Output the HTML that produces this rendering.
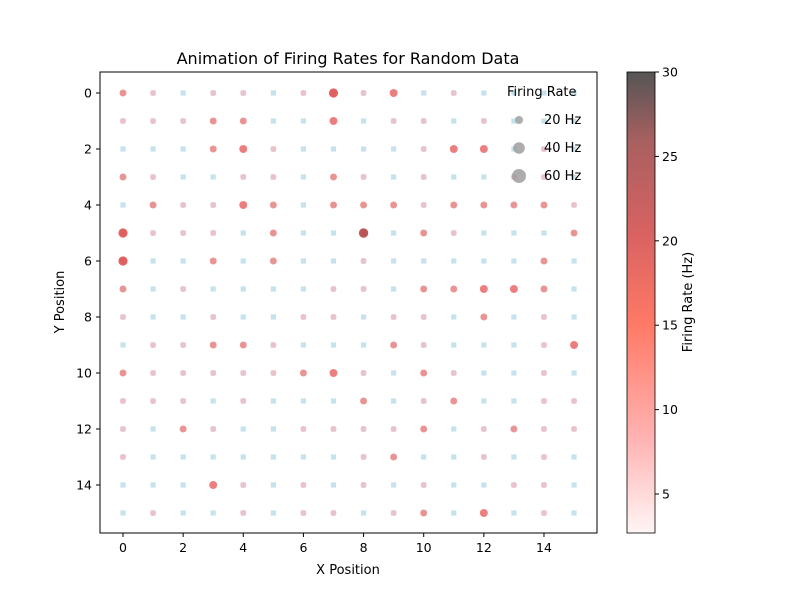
<!DOCTYPE html>
<html><head><meta charset="utf-8"><style>
body{margin:0;background:#fff;font-family:"Liberation Sans","DejaVu Sans",sans-serif}
svg text{font-family:"DejaVu Sans","Liberation Sans",sans-serif;fill:#000}
</style></head><body>
<svg id="c" width="800" height="600" xmlns="http://www.w3.org/2000/svg">
<defs><linearGradient id="cg" x1="0" y1="1" x2="0" y2="0">
<stop offset="0" stop-color="#fff5f5"/><stop offset="0.2" stop-color="#ffb4b4"/><stop offset="0.45" stop-color="#ff7a66"/><stop offset="0.65" stop-color="#d86262"/><stop offset="0.85" stop-color="#a86060"/><stop offset="1" stop-color="#555555"/></linearGradient></defs>
<text x="348" y="64" font-size="16" text-anchor="middle">Animation of Firing Rates for Random Data</text>
<g id="plot"></g>
<rect x="100" y="72" width="497" height="461" fill="none" stroke="#000" stroke-width="1"/>
<g id="ticks"></g>
<text x="348" y="574" font-size="13" text-anchor="middle">X Position</text>
<text transform="translate(64,302) rotate(-90)" font-size="13" text-anchor="middle">Y Position</text>
<g>
<text x="507" y="96" font-size="13">Firing Rate</text>
<circle cx="519" cy="120" r="4" fill="#999" fill-opacity="0.8"/>
<text x="544" y="124" font-size="13">20 Hz</text>
<circle cx="519" cy="148" r="5.8" fill="#999" fill-opacity="0.8"/>
<text x="544" y="152" font-size="13">40 Hz</text>
<circle cx="519" cy="176" r="7" fill="#999" fill-opacity="0.8"/>
<text x="544" y="180" font-size="13">60 Hz</text>
</g>
<rect x="627" y="72" width="28" height="461" fill="url(#cg)" stroke="#000" stroke-width="0.8"/>
<g id="cticks"></g>
<text transform="translate(692,302) rotate(-90)" font-size="13" text-anchor="middle">Firing Rate (Hz)</text>
</svg>
<script>
const xTicks=[0,2,4,6,8,10,12,14];
const yTicks=[0,2,4,6,8,10,12,14];
const cbTicks=[5,10,15,20,25,30];
const levelRates=[3,6,13,16,19,24];
const levels=[
[2,1,0,1,1,0,1,4,1,3,0,1,0,0,0,0],
[1,1,1,2,2,0,0,3,0,1,1,0,1,0,0,0],
[0,0,0,2,3,1,0,0,0,0,1,3,3,0,1,0],
[2,1,0,0,1,1,0,2,1,0,1,0,0,1,1,0],
[0,2,1,1,3,2,0,2,2,2,1,2,2,2,2,1],
[4,1,1,1,0,2,0,0,5,0,2,1,0,0,0,2],
[4,0,0,2,0,2,0,0,1,0,0,0,0,0,2,0],
[2,0,1,0,0,0,0,1,1,0,2,2,3,3,2,0],
[1,0,0,1,0,0,1,1,0,1,1,0,2,0,1,0],
[0,1,1,2,2,1,0,0,0,2,1,0,0,0,1,3],
[2,1,1,1,1,1,2,3,1,0,2,1,0,0,1,0],
[1,1,1,0,1,0,0,0,2,0,1,2,0,0,1,1],
[1,0,2,1,0,0,1,1,1,1,2,0,1,2,1,1],
[1,0,0,0,0,0,0,0,1,2,0,0,1,0,1,0],
[0,0,0,3,1,0,1,0,1,0,1,0,0,1,1,0],
[0,1,0,0,1,0,1,1,0,1,2,0,3,0,1,0]];
const NS="http://www.w3.org/2000/svg";
const sx=v=>123+v*30.07, sy=v=>93+v*28, cy=v=>494-(v-5)*16.88;
function mk(t,a,p){const e=document.createElementNS(NS,t);for(const k in a)e.setAttribute(k,a[k]);(p||document.getElementById('plot')).appendChild(e);return e;}
function col(r){if(r<9)return'#efbcc4';if(r<15)return'#ec8686';if(r<18)return'#ee6c6c';if(r<21)return'#e04848';return'#b03c3c';}
function rad(r){if(r<9)return 3;if(r<15)return 3.5;if(r<18)return 4;if(r<21)return 4.6;return 4.7;}
levels.forEach((row,y)=>row.forEach((l,x)=>{
 const r=levelRates[l];
 const s=mk('rect',{x:sx(x)-2.6,y:sy(y)-2.6,width:5.2,height:5.2,fill:'#c6e2ec'});
 
 
 if(r>4){const c=mk('circle',{cx:sx(x),cy:sy(y),r:rad(r),fill:col(r),'fill-opacity':0.85});
 
 }
}));
const tg=document.getElementById('ticks');
xTicks.forEach(v=>{mk('line',{x1:sx(v),x2:sx(v),y1:533,y2:537,stroke:'#000'},tg);
 const t=mk('text',{x:sx(v),y:552,'font-size':12.5,'text-anchor':'middle'},tg);t.textContent=v;
 
 });
yTicks.forEach(v=>{mk('line',{x1:96,x2:100,y1:sy(v),y2:sy(v),stroke:'#000'},tg);
 const t=mk('text',{x:92,y:sy(v)+4.5,'font-size':12.5,'text-anchor':'end'},tg);t.textContent=v;
 
 });
const cg=document.getElementById('cticks');
cbTicks.forEach(v=>{mk('line',{x1:655,x2:659,y1:cy(v),y2:cy(v),stroke:'#000'},cg);
 const t=mk('text',{x:662,y:cy(v)+4.5,'font-size':12.5},cg);t.textContent=v;
 
 });
</script>
</body></html>
